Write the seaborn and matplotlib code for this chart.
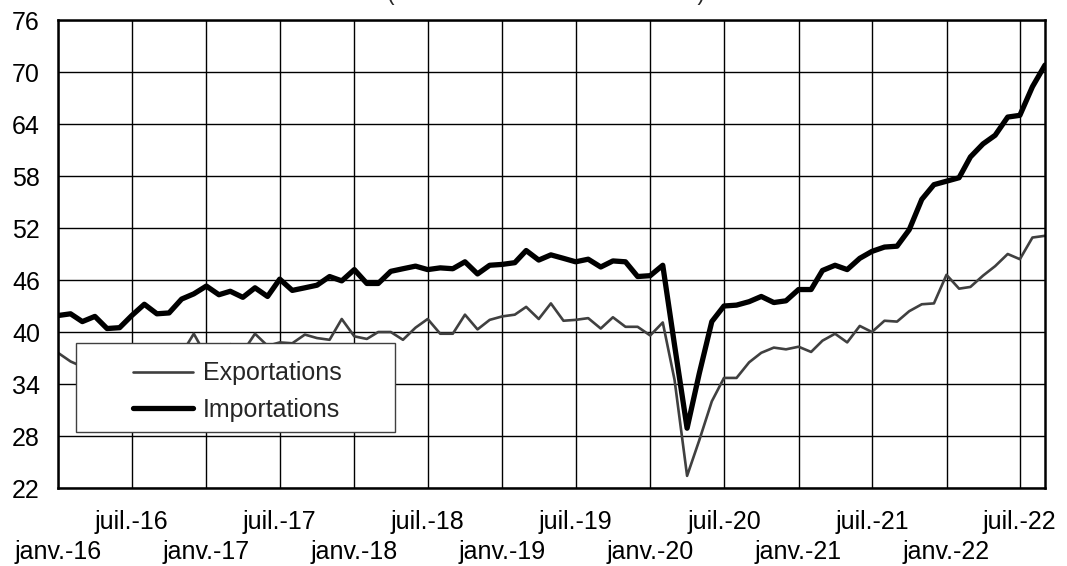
import numpy as np
import pandas as pd
import matplotlib.pyplot as plt
import matplotlib.dates as mdates
from matplotlib.patches import Rectangle
import seaborn as sns

# ---------------------------
# Data (monthly, janv. 2016 -> sept. 2022)
# ---------------------------
mois = pd.date_range("2016-01-01", "2022-09-01", freq="MS")

exportations = [
    37.6, 36.6, 36.0, 36.4, 35.8, 36.2, 36.5, 37.0, 36.6, 37.2, 37.5, 39.8,
    37.2, 37.4, 38.6, 37.7, 39.8, 38.4, 38.8, 38.7, 39.7, 39.3, 39.1, 41.5,
    39.5, 39.2, 40.0, 40.0, 39.1, 40.5, 41.5, 39.8, 39.8, 42.0, 40.3, 41.4,
    41.8, 42.0, 42.9, 41.5, 43.3, 41.3, 41.4, 41.6, 40.4, 41.7, 40.6, 40.6,
    39.6, 41.1, 34.5, 23.4, 27.5, 32.0, 34.7, 34.7, 36.5, 37.6, 38.2, 38.0,
    38.3, 37.7, 39.0, 39.8, 38.8, 40.7, 40.0, 41.3, 41.2, 42.4, 43.2, 43.3,
    46.6, 45.0, 45.2, 46.5, 47.6, 49.0, 48.4, 50.9, 51.1,
]

importations = [
    41.9, 42.1, 41.2, 41.8, 40.4, 40.5, 41.9, 43.2, 42.1, 42.2, 43.8, 44.4,
    45.3, 44.3, 44.7, 44.0, 45.1, 44.1, 46.1, 44.8, 45.1, 45.4, 46.4, 45.9,
    47.2, 45.6, 45.6, 47.0, 47.3, 47.6, 47.2, 47.4, 47.3, 48.1, 46.7, 47.7,
    47.8, 48.0, 49.4, 48.3, 48.9, 48.5, 48.1, 48.4, 47.5, 48.2, 48.1, 46.4,
    46.5, 47.7, 38.5, 28.9, 35.2, 41.2, 43.0, 43.1, 43.5, 44.1, 43.4, 43.6,
    44.9, 44.9, 47.1, 47.7, 47.2, 48.5, 49.3, 49.8, 49.9, 51.8, 55.3, 57.0,
    57.4, 57.8, 60.2, 61.7, 62.7, 64.8, 65.0, 68.3, 70.8,
]

y_ticks = list(range(22, 77, 6))
tick_dates = mois[::6]
tick_labels = [
    ("juil." if d.month == 7 else "\njanv.") + "-" + d.strftime("%y")
    for d in tick_dates
]

df = pd.DataFrame({"mois": mois, "Exportations": exportations, "Importations": importations})

# ---------------------------
# Style
# ---------------------------
sns.set_style("white")
plt.rcParams["font.family"] = ["Liberation Sans", "DejaVu Sans"]
fs = 18

W, H = 1067, 566
fig = plt.figure(figsize=(W / 100, H / 100), dpi=100)
ax = fig.add_axes([58 / W, 1 - 488 / H, (1045 - 58) / W, (488 - 20) / H])

sns.lineplot(data=df, x="mois", y="Exportations", color="#404040",
             linewidth=1.9, label="Exportations", ax=ax)
sns.lineplot(data=df, x="mois", y="Importations", color="black",
             linewidth=3.8, label="Importations", ax=ax)

ax.set_xlim(mois[0], mois[-1])
ax.set_ylim(22, 76)
ax.set_yticks(y_ticks)
ax.set_xticks(mdates.date2num(tick_dates))
ax.set_xticklabels(tick_labels, linespacing=1.3)
ax.set_xlabel("")
ax.set_ylabel("")

ax.tick_params(axis="x", direction="out", length=9, width=1.2, pad=7,
               labelsize=fs, colors="black")
ax.tick_params(axis="y", length=0, pad=13, labelsize=fs, colors="black")
ax.grid(True, color="black", linewidth=1.0)
ax.set_axisbelow(True)
for s in ax.spines.values():
    s.set_visible(True)
    s.set_color("black")
    s.set_linewidth(1.8)

# legend box
x0, y0 = (76 - 58) / 987, (488 - 432) / 468
bw, bh = (395 - 76) / 987, (432 - 343) / 468
ax.add_patch(Rectangle((x0, y0), bw, bh, transform=ax.transAxes,
                       facecolor="white", edgecolor="#404040", linewidth=1.0, zorder=4))
ax.legend(loc="center", bbox_to_anchor=((237 - 58) / 987, (488 - 391.5) / 468),
          frameon=False, fontsize=fs, handlelength=2.4, handletextpad=0.4,
          labelspacing=0.5)

# title, mostly above the top edge as in the source
fig.text(546 / W, 1.0, "(en milliards d'euros CVS-CJO)", ha="center",
         va="baseline", fontsize=16.5)

fig.savefig("out.png", dpi=100)
